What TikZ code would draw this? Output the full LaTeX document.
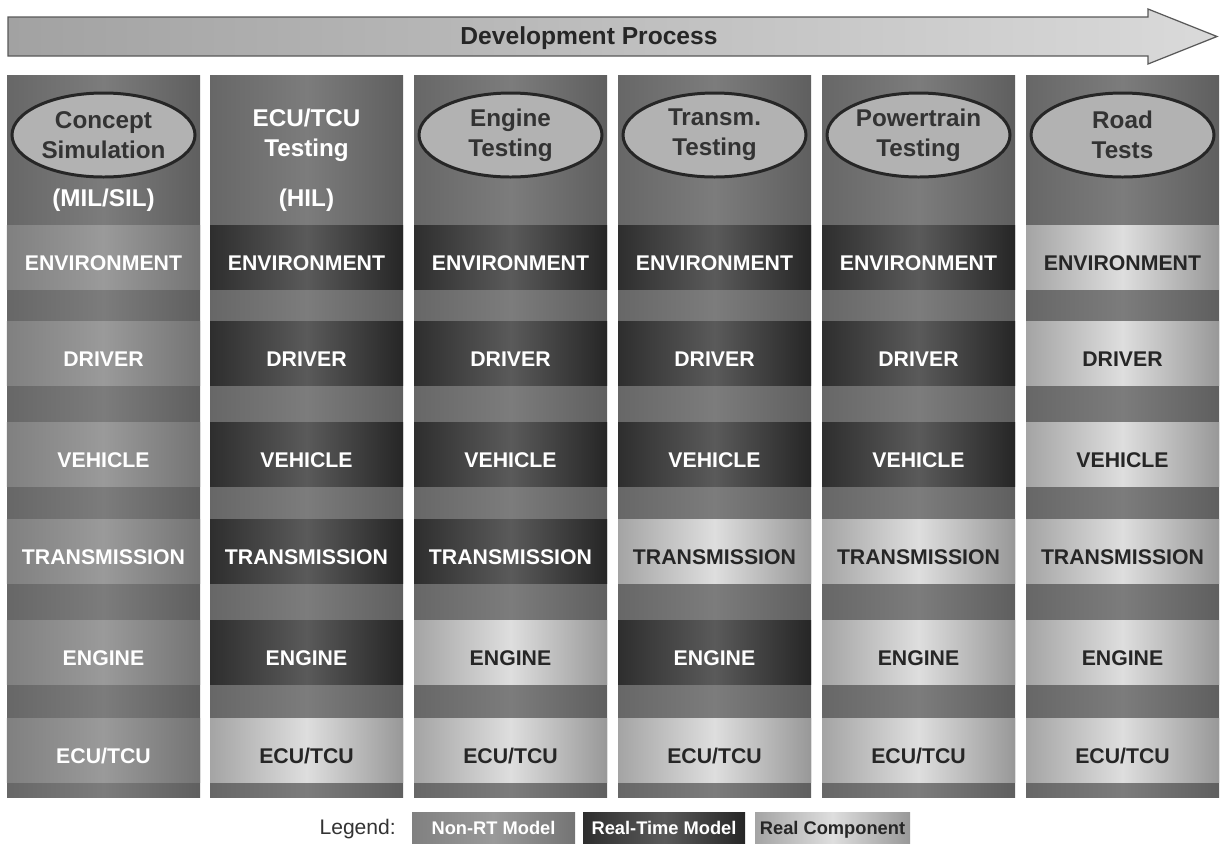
\documentclass[tikz,border=0pt]{standalone}
\usepackage{fontspec}
\setmainfont{Liberation Sans}
\usetikzlibrary{shapes.geometric}

\definecolor{colL}{HTML}{676767}
\definecolor{colM}{HTML}{7C7C7C}
\definecolor{colR}{HTML}{5F5F5F}
\definecolor{nrtL}{HTML}{808080}
\definecolor{nrtM}{HTML}{9A9A9A}
\definecolor{nrtR}{HTML}{747474}
\definecolor{rtL}{HTML}{2E2E2E}
\definecolor{rtM}{HTML}{5A5A5A}
\definecolor{rtR}{HTML}{262626}
\definecolor{realL}{HTML}{A4A4A4}
\definecolor{realM}{HTML}{DEDEDE}
\definecolor{realR}{HTML}{989898}
\definecolor{ellfill}{HTML}{B2B2B2}
\definecolor{barL}{HTML}{A2A2A2}
\definecolor{barR}{HTML}{DADADA}

\newcommand{\bandfont}{\fontsize{12.1}{14}\selectfont\bfseries}
\newcommand{\phasefont}{\fontsize{13.8}{17}\selectfont\bfseries}
\newcommand{\legfont}{\fontsize{10.4}{12}\selectfont\bfseries}

\tikzset{
  colbg/.style={left color=colL, right color=colR, middle color=colM},
  band/.style={minimum width=38.6mm, minimum height=12.8mm, inner sep=0pt,
    font=\bandfont, text height=15pt, text depth=0pt},
  nonrt/.style={left color=nrtL, right color=nrtR, middle color=nrtM, text=white},
  rtmodel/.style={left color=rtL, right color=rtR, middle color=rtM, text=white},
  realcomp/.style={left color=realL, right color=realR, middle color=realM, text=black!85},
  phase/.style={ellipse, draw=black!85, line width=1.7pt, fill=ellfill,
    minimum width=36.6mm, minimum height=16.8mm, inner sep=0pt,
    align=center, font=\phasefont, text=black!80},
  phasetext/.style={align=center, font=\phasefont, text=white},
  legbox/.style={minimum height=6.2mm, inner sep=0pt, font=\legfont,
    text height=7.5pt, text depth=0pt},
}

\begin{document}
\begin{tikzpicture}[x=0.2mm, y=-0.2mm]
  \useasboundingbox (0,0) rectangle (1223,845);
  % Pfeil oben
  \shade[left color=barL, right color=barR, draw=black!65, line width=0.7pt]
    (8,17) -- (1148,17) -- (1148,9) -- (1217,36.5) -- (1148,64)
    -- (1148,56) -- (8,56) -- cycle;
  \node[font=\fontsize{14}{16}\selectfont\bfseries, text=black!85] (proc) at (589,38) {Development Process};
  % Spalten
  \shade[colbg] (7,75) rectangle (200,797);
  \shade[colbg] (210,75) rectangle (403,797);
  \shade[colbg] (414,75) rectangle (607,797);
  \shade[colbg] (618,75) rectangle (811,797);
  \shade[colbg] (822,75) rectangle (1015,797);
  \shade[colbg] (1026,75) rectangle (1219,797);
  % Concept Simulation
  \node[phase] (c1name) at (103.5,135) {Concept\\Simulation};
  \node[phasetext] (c1mode) at (103.5,200) {(MIL/SIL)};
  \node[band, nonrt] (c1env) at (103.5,257) {ENVIRONMENT};
  \node[band, nonrt] (c1drv) at (103.5,353) {DRIVER};
  \node[band, nonrt] (c1veh) at (103.5,454) {VEHICLE};
  \node[band, nonrt] (c1trn) at (103.5,551) {TRANSMISSION};
  \node[band, nonrt] (c1eng) at (103.5,652) {ENGINE};
  \node[band, nonrt] (c1ecu) at (103.5,750) {ECU/TCU};
  % ECU/TCU Testing
  \node[phasetext] (c2name) at (306.5,135) {ECU/TCU\\Testing};
  \node[phasetext] (c2mode) at (306.5,200) {(HIL)};
  \node[band, rtmodel] (c2env) at (306.5,257) {ENVIRONMENT};
  \node[band, rtmodel] (c2drv) at (306.5,353) {DRIVER};
  \node[band, rtmodel] (c2veh) at (306.5,454) {VEHICLE};
  \node[band, rtmodel] (c2trn) at (306.5,551) {TRANSMISSION};
  \node[band, rtmodel] (c2eng) at (306.5,652) {ENGINE};
  \node[band, realcomp] (c2ecu) at (306.5,750) {ECU/TCU};
  % Engine Testing
  \node[phase] (c3name) at (510.5,135) {Engine\\Testing};
  \node[band, rtmodel] (c3env) at (510.5,257) {ENVIRONMENT};
  \node[band, rtmodel] (c3drv) at (510.5,353) {DRIVER};
  \node[band, rtmodel] (c3veh) at (510.5,454) {VEHICLE};
  \node[band, rtmodel] (c3trn) at (510.5,551) {TRANSMISSION};
  \node[band, realcomp] (c3eng) at (510.5,652) {ENGINE};
  \node[band, realcomp] (c3ecu) at (510.5,750) {ECU/TCU};
  % Transm. Testing
  \node[phase] (c4name) at (714.5,135) {Transm.\\Testing};
  \node[band, rtmodel] (c4env) at (714.5,257) {ENVIRONMENT};
  \node[band, rtmodel] (c4drv) at (714.5,353) {DRIVER};
  \node[band, rtmodel] (c4veh) at (714.5,454) {VEHICLE};
  \node[band, realcomp] (c4trn) at (714.5,551) {TRANSMISSION};
  \node[band, rtmodel] (c4eng) at (714.5,652) {ENGINE};
  \node[band, realcomp] (c4ecu) at (714.5,750) {ECU/TCU};
  % Powertrain Testing
  \node[phase] (c5name) at (918.5,135) {Powertrain\\Testing};
  \node[band, rtmodel] (c5env) at (918.5,257) {ENVIRONMENT};
  \node[band, rtmodel] (c5drv) at (918.5,353) {DRIVER};
  \node[band, rtmodel] (c5veh) at (918.5,454) {VEHICLE};
  \node[band, realcomp] (c5trn) at (918.5,551) {TRANSMISSION};
  \node[band, realcomp] (c5eng) at (918.5,652) {ENGINE};
  \node[band, realcomp] (c5ecu) at (918.5,750) {ECU/TCU};
  % Road Tests
  \node[phase] (c6name) at (1122.5,135) {Road\\Tests};
  \node[band, realcomp] (c6env) at (1122.5,257) {ENVIRONMENT};
  \node[band, realcomp] (c6drv) at (1122.5,353) {DRIVER};
  \node[band, realcomp] (c6veh) at (1122.5,454) {VEHICLE};
  \node[band, realcomp] (c6trn) at (1122.5,551) {TRANSMISSION};
  \node[band, realcomp] (c6eng) at (1122.5,652) {ENGINE};
  \node[band, realcomp] (c6ecu) at (1122.5,750) {ECU/TCU};
  % Legende
  \node[anchor=east, font=\fontsize{12}{14}\selectfont, text=black!80] (leg) at (402,829) {Legend:};
  \node[legbox, nonrt, minimum width=32.6mm] (legnrt) at (493.5,828) {Non-RT Model};
  \node[legbox, rtmodel, minimum width=32.4mm] (legrt) at (664,828) {Real-Time Model};
  \node[legbox, realcomp, minimum width=31mm] (legreal) at (832.5,828) {Real Component};
\end{tikzpicture}
\end{document}
